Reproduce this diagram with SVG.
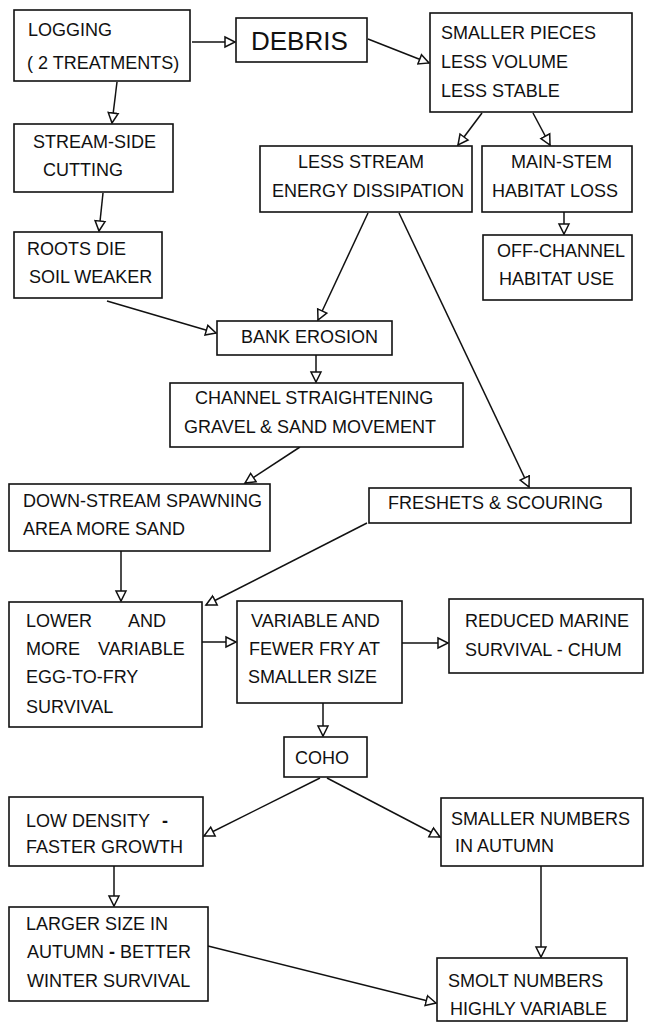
<svg xmlns="http://www.w3.org/2000/svg" width="646" height="1025" viewBox="0 0 646 1025">
<style>
.box{fill:#fff;stroke:#111;stroke-width:1.6}
.t{font-family:"Liberation Sans",Arial,sans-serif;font-size:18px;fill:#111}
.big{font-size:26px}
.c{stroke:#111;stroke-width:1.5;fill:none;marker-end:url(#ah)}
</style>
<defs>
<marker id="ah" markerUnits="userSpaceOnUse" markerWidth="14" markerHeight="14" refX="11" refY="6" orient="auto" viewBox="0 0 14 12">
<path d="M1,1 L11,6 L1,11 Z" fill="#fff" stroke="#111" stroke-width="1.5"/>
</marker>
</defs>
<rect width="646" height="1025" fill="#fff"/>
<g id="connectors">
<line class="c" x1="192" y1="42" x2="235" y2="42"/>
<line class="c" x1="368" y1="39" x2="429" y2="63"/>
<line class="c" x1="117" y1="82" x2="112" y2="123"/>
<line class="c" x1="482" y1="113" x2="458" y2="145"/>
<line class="c" x1="533" y1="113" x2="550" y2="145"/>
<line class="c" x1="103" y1="193" x2="99" y2="231"/>
<line class="c" x1="564" y1="212" x2="564" y2="234"/>
<line class="c" x1="107" y1="301" x2="216" y2="333"/>
<line class="c" x1="368" y1="213" x2="318" y2="320"/>
<line class="c" x1="399" y1="213" x2="529" y2="487"/>
<line class="c" x1="316" y1="355" x2="316" y2="382"/>
<line class="c" x1="300" y1="447" x2="245" y2="483"/>
<line class="c" x1="121" y1="551" x2="121" y2="601"/>
<line class="c" x1="367" y1="523" x2="206" y2="605"/>
<line class="c" x1="202" y1="642" x2="236" y2="642"/>
<line class="c" x1="402" y1="643" x2="448" y2="643"/>
<line class="c" x1="323" y1="703" x2="323" y2="736"/>
<line class="c" x1="320" y1="778" x2="204" y2="836"/>
<line class="c" x1="327" y1="778" x2="440" y2="837"/>
<line class="c" x1="114" y1="866" x2="114" y2="906"/>
<line class="c" x1="541" y1="866" x2="541" y2="957"/>
<line class="c" x1="208" y1="946" x2="436" y2="1003"/>
</g>
<g id="logging"><rect class="box" x="14" y="10" width="176" height="71"/>
<text class="t" x="28" y="36">LOGGING</text><text class="t" x="27" y="69">( 2 TREATMENTS)</text></g>
<g id="debris"><rect class="box" x="236" y="18" width="131" height="44"/>
<text class="t big" x="251" y="50">DEBRIS</text></g>
<g id="smaller-pieces"><rect class="box" x="430" y="13" width="202" height="99"/>
<text class="t" x="441" y="39">SMALLER PIECES</text><text class="t" x="441" y="68">LESS VOLUME</text><text class="t" x="441" y="97">LESS STABLE</text></g>
<g id="stream-side"><rect class="box" x="14" y="124" width="159" height="68"/>
<text class="t" x="33" y="148">STREAM-SIDE</text><text class="t" x="43" y="176">CUTTING</text></g>
<g id="less-stream"><rect class="box" x="260" y="146" width="212" height="66"/>
<text class="t" x="298" y="168">LESS STREAM</text><text class="t" x="272" y="197">ENERGY DISSIPATION</text></g>
<g id="main-stem"><rect class="box" x="482" y="146" width="150" height="66"/>
<text class="t" x="511" y="168">MAIN-STEM</text><text class="t" x="492" y="197">HABITAT LOSS</text></g>
<g id="roots"><rect class="box" x="14" y="232" width="148" height="66"/>
<text class="t" x="27" y="255">ROOTS DIE</text><text class="t" x="29" y="283">SOIL WEAKER</text></g>
<g id="off-channel"><rect class="box" x="483" y="235" width="149" height="65"/>
<text class="t" x="497" y="257">OFF-CHANNEL</text><text class="t" x="499" y="285">HABITAT USE</text></g>
<g id="bank-erosion"><rect class="box" x="217" y="321" width="175" height="34"/>
<text class="t" x="241" y="343">BANK EROSION</text></g>
<g id="channel"><rect class="box" x="170" y="383" width="293" height="64"/>
<text class="t" x="195" y="404">CHANNEL STRAIGHTENING</text><text class="t" x="184" y="433">GRAVEL &amp; SAND MOVEMENT</text></g>
<g id="down-stream"><rect class="box" x="9" y="484" width="261" height="67"/>
<text class="t" x="23" y="507">DOWN-STREAM SPAWNING</text><text class="t" x="23" y="535">AREA MORE SAND</text></g>
<g id="freshets"><rect class="box" x="369" y="488" width="262" height="35"/>
<text class="t" x="388" y="509">FRESHETS &amp; SCOURING</text></g>
<g id="lower"><rect class="box" x="9" y="602" width="193" height="125"/>
<text class="t" y="627"><tspan x="26">LOWER</tspan><tspan x="128">AND</tspan></text>
<text class="t" y="655"><tspan x="26">MORE</tspan><tspan x="98">VARIABLE</tspan></text>
<text class="t" x="26" y="683">EGG-TO-FRY</text><text class="t" x="26" y="713">SURVIVAL</text></g>
<g id="variable"><rect class="box" x="237" y="601" width="165" height="102"/>
<text class="t" x="251" y="627">VARIABLE AND</text><text class="t" x="249" y="655">FEWER FRY AT</text><text class="t" x="248" y="683">SMALLER SIZE</text></g>
<g id="reduced"><rect class="box" x="449" y="599" width="194" height="74"/>
<text class="t" x="465" y="627">REDUCED MARINE</text><text class="t" x="465" y="656">SURVIVAL - CHUM</text></g>
<g id="coho"><rect class="box" x="284" y="737" width="83" height="40"/>
<text class="t" x="295" y="764">COHO</text></g>
<g id="low-density"><rect class="box" x="9" y="797" width="194" height="69"/>
<text class="t" y="827"><tspan x="26">LOW DENSITY</tspan><tspan x="162" font-weight="bold">-</tspan></text>
<text class="t" x="26" y="853">FASTER GROWTH</text></g>
<g id="smaller-numbers"><rect class="box" x="441" y="798" width="202" height="68"/>
<text class="t" x="451" y="825">SMALLER NUMBERS</text><text class="t" x="455" y="852">IN AUTUMN</text></g>
<g id="larger-size"><rect class="box" x="9" y="907" width="199" height="94"/>
<text class="t" x="26" y="930">LARGER SIZE IN</text><text class="t" x="27" y="958">AUTUMN <tspan font-weight="bold">-</tspan> BETTER</text><text class="t" x="27" y="987">WINTER SURVIVAL</text></g>
<g id="smolt"><rect class="box" x="437" y="958" width="190" height="63"/>
<text class="t" x="448" y="987">SMOLT NUMBERS</text><text class="t" x="450" y="1015">HIGHLY VARIABLE</text></g>
</svg>
